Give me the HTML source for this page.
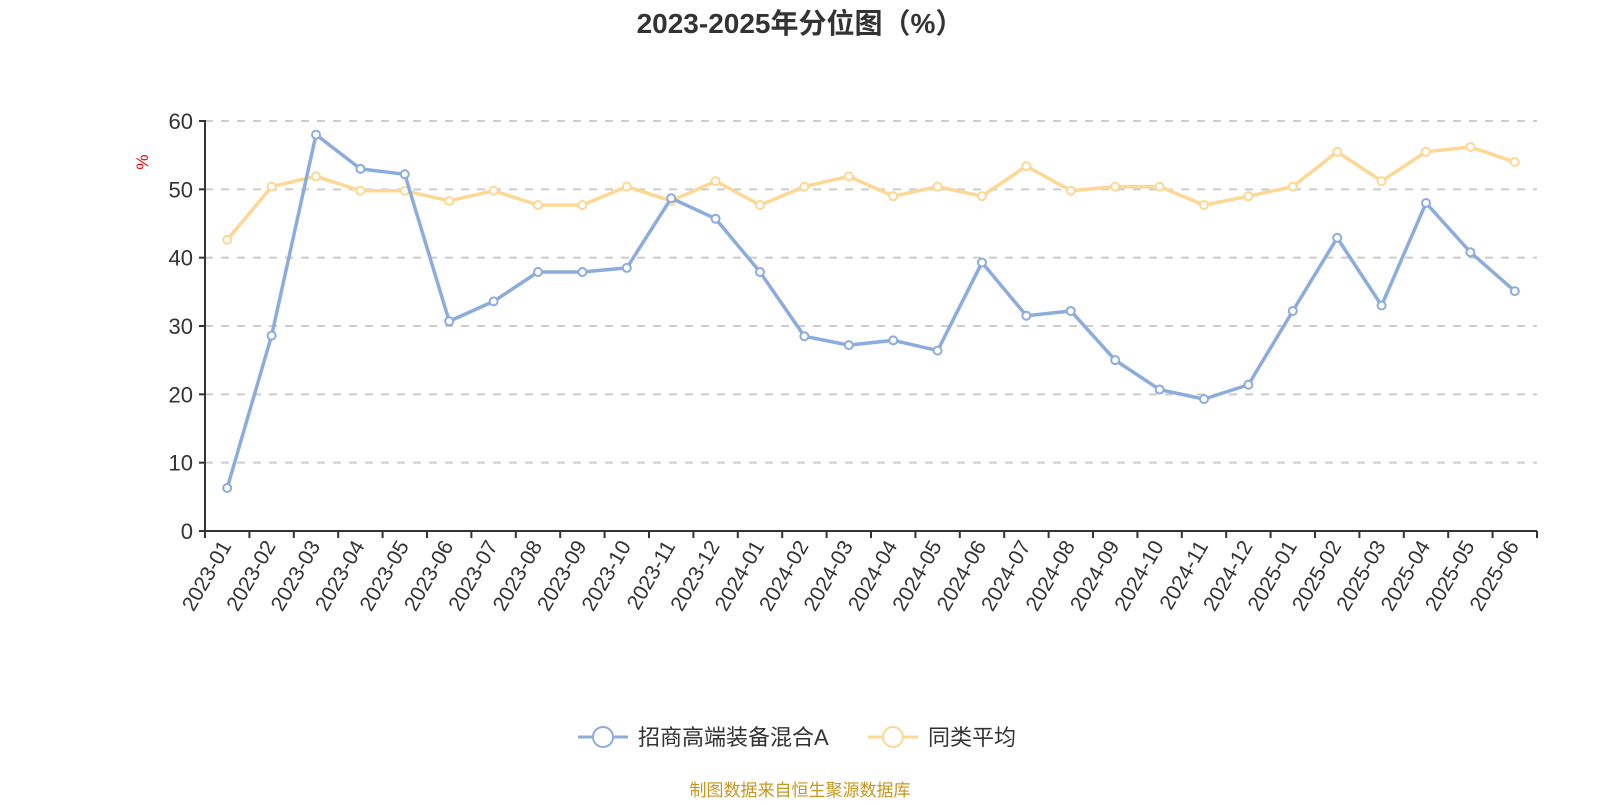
<!DOCTYPE html>
<html><head><meta charset="utf-8"><style>
body{margin:0;background:#fff;width:1600px;height:800px;overflow:hidden;font-family:"Liberation Sans","Noto Sans CJK SC",sans-serif}
</style></head><body>
<svg id="c" width="1600" height="800" xmlns="http://www.w3.org/2000/svg" font-family="Liberation Sans, Noto Sans CJK SC, sans-serif">
<text x="800" y="33" text-anchor="middle" font-size="28" font-weight="bold" fill="#333">2023-2025年分位图（%）</text>
<text x="0" y="0" transform="translate(148,162) rotate(-90)" text-anchor="middle" font-size="17" fill="#e00">%</text>
<g id="grid"></g><g id="axes"></g><g id="series"></g>
<g>
<g><line x1="578" y1="737" x2="628" y2="737" stroke="#8cacdc" stroke-width="3"/><circle cx="603" cy="737" r="10" fill="#fff" stroke="#8cacdc" stroke-width="2"/><text x="638" y="745" font-size="22" fill="#333">招商高端装备混合A</text></g>
<g><line x1="868" y1="737" x2="918" y2="737" stroke="#fdd895" stroke-width="3"/><circle cx="893" cy="737" r="10" fill="#fff" stroke="#fdd895" stroke-width="2"/><text x="928" y="745" font-size="22" fill="#333">同类平均</text></g>
</g>
<text x="800" y="796" text-anchor="middle" font-size="17" fill="#c8961e">制图数据来自恒生聚源数据库</text>
</svg>
<script>
const categories=["2023-01","2023-02","2023-03","2023-04","2023-05","2023-06","2023-07","2023-08","2023-09","2023-10","2023-11","2023-12","2024-01","2024-02","2024-03","2024-04","2024-05","2024-06","2024-07","2024-08","2024-09","2024-10","2024-11","2024-12","2025-01","2025-02","2025-03","2025-04","2025-05","2025-06"];
const fundValues=[6.3,28.6,58,53,52.2,30.7,33.6,37.9,37.9,38.5,48.7,45.7,37.9,28.5,27.2,27.9,26.4,39.3,31.5,32.2,25,20.7,19.3,21.4,32.2,42.9,33,48,40.8,35.1];
const peerValues=[42.6,50.4,51.9,49.8,49.8,48.3,49.8,47.7,47.7,50.4,48.3,51.2,47.7,50.4,51.9,49,50.4,49,53.4,49.8,50.4,50.4,47.7,49,50.4,55.5,51.2,55.5,56.2,54];
const yTicks=[0,10,20,30,40,50,60];
const NS="http://www.w3.org/2000/svg";
const X0=205,X1=1537,Y0=531,Y1=121,YMAX=60;
const bw=(X1-X0)/categories.length;
const xs=i=>X0+bw*(i+0.5);
const ys=v=>Y0-(v/YMAX)*(Y0-Y1);
function mk(tag,attrs,parent){const e=document.createElementNS(NS,tag);for(const k in attrs)e.setAttribute(k,attrs[k]);parent.appendChild(e);return e;}
const grid=document.getElementById('grid'),axes=document.getElementById('axes'),ser=document.getElementById('series');
yTicks.forEach(t=>{
  if(t>0){const g=mk('line',{x1:X0,x2:X1,y1:ys(t),y2:ys(t),stroke:'#ccc','stroke-width':2,'stroke-dasharray':'8,8'},grid);
  
  }
  const tk=mk('line',{x1:X0-6,x2:X0,y1:ys(t),y2:ys(t),stroke:'#333','stroke-width':2},axes);
  
  
  const tx=mk('text',{x:X0-12,y:ys(t)+8,'text-anchor':'end','font-size':22,fill:'#333'},axes);tx.textContent=t;
  
  
});
const ya=mk('line',{x1:X0,x2:X0,y1:Y1-1,y2:Y0,stroke:'#333','stroke-width':2},axes);


const xa=mk('line',{x1:X0,x2:X1,y1:Y0,y2:Y0,stroke:'#333','stroke-width':2},axes);


for(let i=0;i<=categories.length;i++){const l=mk('line',{x1:X0+bw*i,x2:X0+bw*i,y1:Y0,y2:Y0+7,stroke:'#333','stroke-width':2},axes);
  
  }
categories.forEach((c,i)=>{const x=xs(i),y=Y0+12;
  const t=mk('text',{x:x,y:y,transform:`rotate(-60 ${x} ${y})`,'text-anchor':'end','dominant-baseline':'middle','font-size':21,fill:'#333'},axes);t.textContent=c;
  
  });
function series(vals,color,name){
  const p=mk('polyline',{points:vals.map((v,i)=>xs(i)+','+ys(v)).join(' '),fill:'none',stroke:color,'stroke-width':3.5,'stroke-linejoin':'round'},ser);
  
  
  vals.forEach((v,i)=>{const c=mk('circle',{cx:xs(i),cy:ys(v),r:4,fill:'#fff',stroke:color,'stroke-width':2},ser);
    
    });
}
series(peerValues,'#fdd895','peer-average');
series(fundValues,'#8cacdc','fund');
</script>
</body></html>
